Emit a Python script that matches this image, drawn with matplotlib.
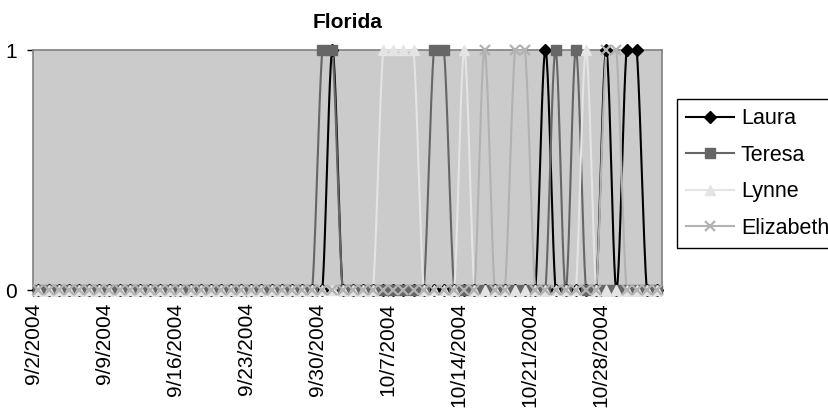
import matplotlib
matplotlib.use("Agg")
import matplotlib.pyplot as plt
from matplotlib.lines import Line2D
import numpy as np
import pandas as pd

plt.rcParams['font.family'] = ['Liberation Sans', 'DejaVu Sans']

# one point per day, 9/2/2004 .. 11/2/2004
dates = pd.date_range('2004-09-02', '2004-11-02', freq='D')
tick_labels = ['9/2/2004', '9/9/2004', '9/16/2004', '9/23/2004', '9/30/2004',
               '10/7/2004', '10/14/2004', '10/21/2004', '10/28/2004']

laura = [0, 0, 0, 0, 0, 0, 0, 0, 0, 0,
         0, 0, 0, 0, 0, 0, 0, 0, 0, 0,
         0, 0, 0, 0, 0, 0, 0, 0, 0, 1,
         0, 0, 0, 0, 0, 0, 0, 0, 0, 0,
         0, 0, 0, 0, 0, 0, 0, 0, 0, 0,
         1, 0, 0, 0, 0, 0, 1, 0, 1, 1,
         0, 0]
teresa = [0, 0, 0, 0, 0, 0, 0, 0, 0, 0,
          0, 0, 0, 0, 0, 0, 0, 0, 0, 0,
          0, 0, 0, 0, 0, 0, 0, 0, 1, 1,
          0, 0, 0, 0, 0, 0, 0, 0, 0, 1,
          1, 0, 0, 0, 0, 0, 0, 0, 0, 0,
          0, 1, 0, 1, 0, 0, 0, 0, 0, 0,
          0, 0]
lynne = [0, 0, 0, 0, 0, 0, 0, 0, 0, 0,
         0, 0, 0, 0, 0, 0, 0, 0, 0, 0,
         0, 0, 0, 0, 0, 0, 0, 0, 0, 0,
         0, 0, 0, 0, 1, 1, 1, 1, 0, 0,
         0, 0, 1, 0, 0, 0, 0, 0, 0, 0,
         0, 0, 0, 0, 1, 0, 0, 0, 0, 0,
         0, 0]
elizabeth = [0, 0, 0, 0, 0, 0, 0, 0, 0, 0,
             0, 0, 0, 0, 0, 0, 0, 0, 0, 0,
             0, 0, 0, 0, 0, 0, 0, 0, 0, 0,
             0, 0, 0, 0, 0, 0, 0, 0, 0, 0,
             0, 0, 0, 0, 1, 0, 0, 1, 1, 0,
             0, 0, 0, 0, 0, 0, 1, 1, 0, 0,
             0, 0]

series = [
    ('Laura', laura, 'black', 'D', 6.5),
    ('Teresa', teresa, '#666666', 's', 6.5),
    ('Lynne', lynne, '#e4e4e4', '^', 7.5),
    ('Elizabeth', elizabeth, '#b2b2b2', 'x', 7),
]


def smooth(y, n=24):
    # excel-like smoothed line (catmull-rom bezier)
    y = np.asarray(y, dtype=float)
    x = np.arange(len(y), dtype=float)
    xs, ys = [], []
    t = np.linspace(0, 1, n)
    for i in range(len(y) - 1):
        i0, i3 = max(i - 1, 0), min(i + 2, len(y) - 1)
        for arr, out in ((x, xs), (y, ys)):
            p0, p1, p2, p3 = arr[i0], arr[i], arr[i + 1], arr[i3]
            c1 = p1 + (p2 - p0) / 6
            c2 = p2 - (p3 - p1) / 6
            out.append((1 - t)**3 * p1 + 3 * (1 - t)**2 * t * c1
                       + 3 * (1 - t) * t**2 * c2 + t**3 * p2)
    return np.concatenate(xs), np.concatenate(ys)


fig = plt.figure(figsize=(8.29, 4.15), dpi=100)
ax = fig.add_axes([0.0402, 0.301, 0.7584, 0.578])
ax.set_facecolor('#cbcbcb')

xi = np.arange(len(dates))
handles = []
for name, vals, col, mk, ms in series:
    sx, sy = smooth(vals)
    # excel clips the overshoot at the plot area edge
    sy = np.clip(sy, 0, 1)
    ax.plot(sx, sy, color=col, lw=1.5, zorder=3, clip_on=False)
    mew = 1.6 if mk == 'x' else 1
    ax.plot(xi, vals, linestyle='none', marker=mk, ms=ms, color=col,
            mec=col, mew=mew, zorder=4, clip_on=False)
    handles.append(Line2D([], [], color=col, lw=1.5, marker=mk, ms=ms,
                          mec=col, mew=mew, label=name))

ax.set_xlim(-0.5, len(dates) - 0.5)
ax.set_ylim(0, 1)
ax.set_xticks(np.arange(len(tick_labels)) * 7 - 0.5)
ax.set_xticklabels(tick_labels, rotation=90, fontsize=15)
ax.set_yticks([0, 1])
ax.set_yticklabels(['0', '1'], fontsize=15)
ax.tick_params(axis='both', direction='out', length=4, width=1, color='black', pad=5)
ax.tick_params(axis='y', pad=8)

for s in ['top', 'right', 'left']:
    ax.spines[s].set_color('#808080')
ax.spines['bottom'].set_color('black')
for s in ax.spines.values():
    s.set_linewidth(1.2)

ax.set_title('Florida', fontsize=15, fontweight='bold', pad=16)

leg = fig.legend(handles=handles, loc='upper left', bbox_to_anchor=(0.8167, 0.761),
                 fontsize=15.5, frameon=True, fancybox=False, framealpha=1,
                 edgecolor='black', handlelength=2.2, handletextpad=0.33,
                 labelspacing=0.72, borderpad=0.43, borderaxespad=0)
leg.get_frame().set_linewidth(1)

fig.savefig('out.png', dpi=100)
